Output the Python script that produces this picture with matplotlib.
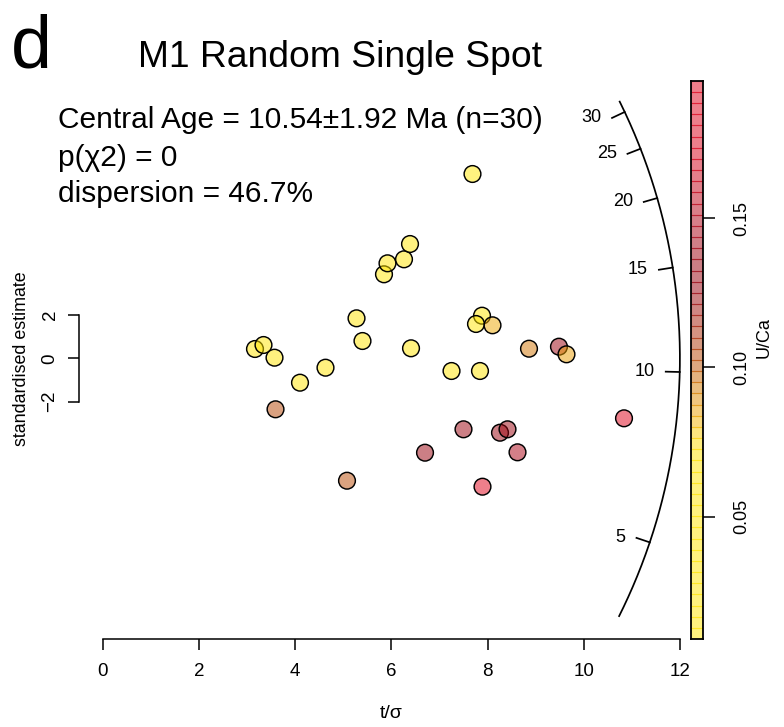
import numpy as np
import matplotlib
matplotlib.use('Agg')
import matplotlib.pyplot as plt
from matplotlib import font_manager
from matplotlib.colors import LinearSegmentedColormap, Normalize

# ---------------- data ----------------
t_sigma = [3.166, 3.343, 3.572, 4.102, 4.632, 3.593, 5.277, 5.401, 5.848, 5.921,
           6.264, 6.389, 6.410, 5.079, 6.701, 7.252, 7.501, 7.844, 7.886, 7.761,
           8.104, 7.896, 8.260, 8.416, 8.624, 8.863, 9.486, 9.642, 10.838, 7.688]
std_est = [0.429, 0.613, 0.028, -1.124, -0.433, -2.350, 1.843, 0.797, 3.871, 4.378,
           4.562, 5.267, 0.461, -5.641, -4.350, -0.585, -3.272, -0.585, 1.963, 1.581,
           1.521, -5.917, -3.429, -3.272, -4.332, 0.442, 0.535, 0.184, -2.765, 8.493]
u_ca = [0.030, 0.025, 0.040, 0.035, 0.045, 0.104, 0.030, 0.050, 0.020, 0.038,
        0.028, 0.015, 0.042, 0.103, 0.133, 0.047, 0.130, 0.036, 0.022, 0.055,
        0.084, 0.196, 0.131, 0.128, 0.146, 0.095, 0.131, 0.086, 0.190, 0.009]

central_age = 10.54
central_err = 1.92
n_grains = 30
p_chi2 = 0
dispersion = 46.7

x_ticks = [0, 2, 4, 6, 8, 10, 12]
y_ticks = [-2, 0, 2]
age_ticks = [5, 10, 15, 20, 25, 30]
cbar_ticks = [0.05, 0.10, 0.15]
cbar_labels = ['0.05', '0.10', '0.15']

title = 'M1 Random Single Spot'
panel = 'd'
x_label = 't/\u03c3'
y_label = 'standardised estimate'
c_label = 'U/Ca'

# ---------------- fonts ----------------
def has_font(name):
    try:
        font_manager.findfont(font_manager.FontProperties(family=name),
                              fallback_to_default=False)
        return True
    except Exception:
        return False

SANS = 'Liberation Sans' if has_font('Liberation Sans') else 'DejaVu Sans'
NARROW = 'Liberation Sans Narrow' if has_font('Liberation Sans Narrow') else SANS
plt.rcParams['font.family'] = [SANS, 'DejaVu Sans']
plt.rcParams['axes.unicode_minus'] = True

# ---------------- colour map (base colours drawn at alpha 0.5) ----------------
stops = [(0.00, (255, 230, 0)), (0.34, (255, 228, 0)), (0.37, (251, 201, 0)),
         (0.41, (235, 158, 0)), (0.45, (215, 125, 0)), (0.49, (189, 81, 1)),
         (0.53, (175, 55, 5)), (0.57, (165, 25, 5)), (0.63, (155, 1, 13)),
         (0.68, (155, 0, 13)), (0.73, (169, 0, 19)), (0.79, (189, 0, 21)),
         (0.88, (217, 0, 25)), (1.00, (225, 0, 25))]
cmap = LinearSegmentedColormap.from_list(
    'ucamap', [(p, tuple(v / 255 for v in c)) for p, c in stops])
vmin, vmax = min(u_ca), max(u_ca)
norm = Normalize(vmin=vmin, vmax=vmax)
ALPHA = 0.5

# ---------------- figure / axes layout ----------------
W, H = 784, 727
fig = plt.figure(figsize=(W / 100, H / 100), dpi=100)
fig.patch.set_facecolor('white')
ax = fig.add_axes([0, 0, 1, 1])
ax.patch.set_visible(False)

X0, SX = 102.7, 48.1   # pixel of t/sigma = 0, pixels per unit
Y0, SY = 358.3, 21.7   # pixel of std. estimate = 0, pixels per unit
ax.set_xlim(-X0 / SX, (W - X0) / SX)
ax.set_ylim((Y0 - H) / SY, Y0 / SY)

def px_x(px):
    return (px - X0) / SX

def px_y(py):
    return (Y0 - py) / SY

LW = 1.1
for s in ['top', 'right']:
    ax.spines[s].set_visible(False)
ax.spines['bottom'].set_position(('data', px_y(639.3)))
ax.spines['bottom'].set_bounds(x_ticks[0], x_ticks[-1])
ax.spines['left'].set_position(('data', px_x(79.3)))
ax.spines['left'].set_bounds(y_ticks[0], y_ticks[-1])
for s in ['bottom', 'left']:
    ax.spines[s].set_linewidth(LW)
ax.set_xticks(x_ticks)
ax.set_xticklabels([str(v) for v in x_ticks])
ax.set_yticks(y_ticks)
ax.set_yticklabels(['\u22122' if v == -2 else str(v) for v in y_ticks])
ax.tick_params(axis='x', direction='out', length=7.7, width=LW, pad=9.5, labelsize=13.5)
ax.tick_params(axis='y', direction='out', length=7.9, width=LW, pad=7, labelsize=13.5,
               labelrotation=90)
for lab in ax.get_yticklabels():
    lab.set_verticalalignment('center')

ax.text(px_x(22), 0, y_label, rotation=90, ha='center', va='center', fontsize=12.9)
ax.text(6, px_y(713), x_label, ha='center', va='center', fontsize=14)

# ---------------- radial scale (arc) ----------------
R_ARC = 12.0  # in t/sigma units (circle in screen space)

def arc_xy(age, r):
    s = np.log(np.asarray(age, dtype=float) / central_age)
    dx, dy = SX, s * SY
    n = np.hypot(dx, dy)
    R = r * SX
    return (R * dx / n) / SX, (R * dy / n) / SY

ages_data = central_age * np.exp(np.array(std_est) / np.array(t_sigma))
arc_ages = np.exp(np.linspace(np.log(ages_data.min()), np.log(ages_data.max()), 300))
ax_, ay_ = arc_xy(arc_ages, R_ARC)
ax.plot(ax_, ay_, color='black', lw=1.25, solid_capstyle='butt', zorder=2)

TICK_PX = 14.0
for a in age_ticks:
    x1, y1 = arc_xy(a, R_ARC)
    x2, y2 = arc_xy(a, R_ARC - TICK_PX / SX)
    ax.plot([x1, x2], [y1, y2], color='black', lw=1.25, zorder=2)
    ax.annotate(str(a), xy=(x2, y2), xytext=(-7.8, 0), textcoords='offset points',
                ha='right', va='center', fontsize=13)

# ---------------- points ----------------
fc = cmap(norm(np.array(u_ca)))
fc[:, 3] = ALPHA
ax.scatter(t_sigma, std_est, s=145, facecolors=fc, edgecolors='black',
           linewidths=1.05, zorder=3)

# ---------------- colour bar ----------------
cax = fig.add_axes([691 / W, (H - 639) / H, 12.3 / W, 558.3 / H])
nb = 50
edges = np.linspace(vmin, vmax, nb + 1)
mids = 0.5 * (edges[:-1] + edges[1:])
bc = cmap(norm(mids))
bc[:, 3] = ALPHA
cax.bar(0.5, np.diff(edges), bottom=edges[:-1], width=1.0, color=bc,
        edgecolor=bc, linewidth=0.8)
cax.set_xlim(0, 1)
cax.set_ylim(vmin, vmax)
cax.set_xticks([])
cax.yaxis.tick_right()
cax.set_yticks(cbar_ticks)
cax.set_yticklabels(cbar_labels)
cax.tick_params(axis='y', direction='out', length=8.4, width=LW, pad=13,
                labelsize=13, labelrotation=90)
for lab in cax.get_yticklabels():
    lab.set_verticalalignment('center')
for s in cax.spines.values():
    s.set_linewidth(1.3)
fig.text(764 / W, 1 - 338 / H, c_label, rotation=90, ha='center', va='center',
         fontsize=13)

# ---------------- header texts ----------------
fig.text(11 / W, 1 - 68 / H, panel, fontsize=53, va='baseline', ha='left')
t_title = fig.text(137.5 / W, 1 - 66.7 / H, title, fontsize=25, va='baseline', ha='left')

line1 = 'Central Age = {:.2f}\u00b1{:.2f} Ma (n={})'.format(central_age, central_err, n_grains)
line2 = 'p(\u03c72) = {}'.format(p_chi2)
line3 = 'dispersion = {:.1f}%'.format(dispersion)
t1 = fig.text(57.5 / W, 1 - 128.3 / H, line1, fontsize=22, va='baseline', ha='left',
              family=[NARROW, 'DejaVu Sans'])
t2 = fig.text(57.5 / W, 1 - 165.7 / H, line2, fontsize=22, va='baseline', ha='left',
              family=[NARROW, 'DejaVu Sans'])
t3 = fig.text(57.5 / W, 1 - 202.5 / H, line3, fontsize=22, va='baseline', ha='left',
              family=[NARROW, 'DejaVu Sans'])

renderer = fig.canvas.get_renderer()

def fit_width(t, target):
    w = t.get_window_extent(renderer).width
    t.set_fontsize(t.get_fontsize() * target / w)

fit_width(t_title, 405)
fit_width(t1, 484)
t2.set_fontsize(t1.get_fontsize())
t3.set_fontsize(t1.get_fontsize())

fig.savefig('out.png', dpi=100, facecolor='white')
